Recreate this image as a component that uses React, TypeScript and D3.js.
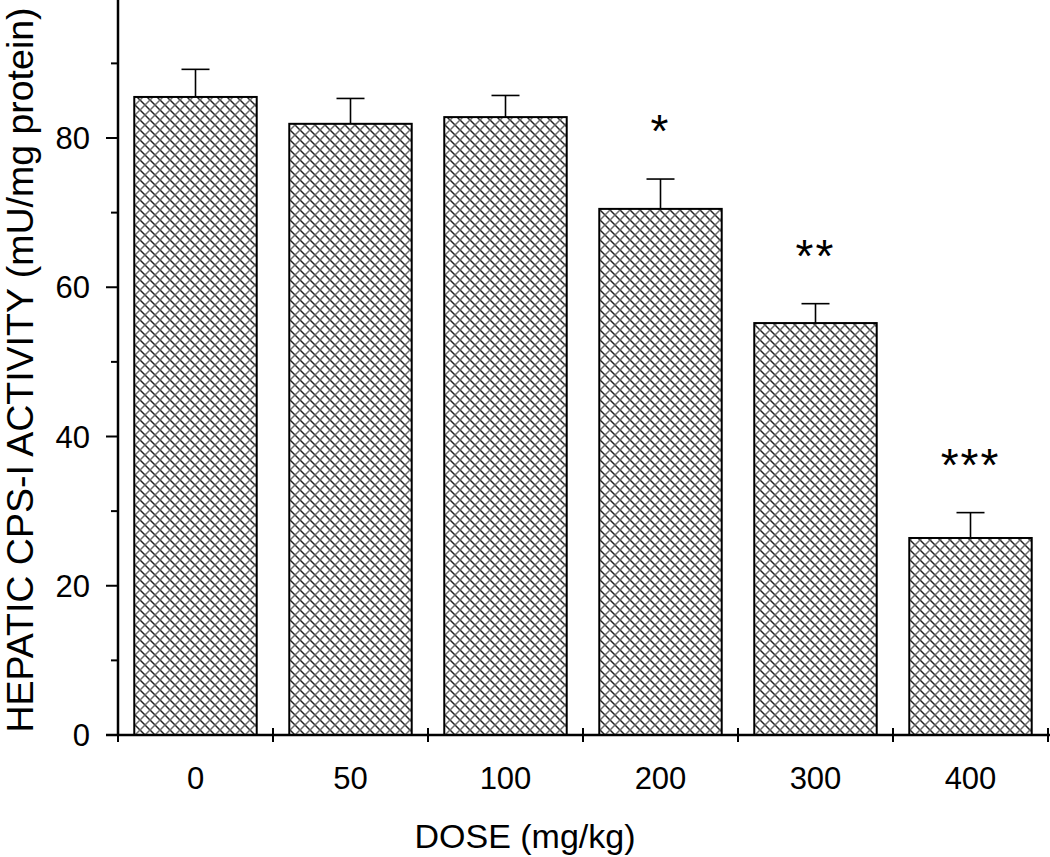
import React from 'react';
import * as d3 from 'd3';

const doses = ['0', '50', '100', '200', '300', '400'];
const activity = [85.5, 81.9, 82.8, 70.5, 55.2, 26.4];
const errorTop = [89.2, 85.3, 85.7, 74.5, 57.8, 29.8];
const stars = ['', '', '', '*', '**', '***'];
const majorTicks = [0, 20, 40, 60, 80];
const minorTicks = [10, 30, 50, 70, 90];

const W = 1050;
const H = 857;
const axisX = 118;
const axisY = 735;
const font = 'Arial, "Liberation Sans", Helvetica, sans-serif';

const App = () => {
  // x bands between the tick marks on the dose axis
  const x = d3.scaleBand<string>()
    .domain(doses)
    .range([axisX, axisX + 155 * doses.length])
    .paddingInner(0.21)
    .paddingOuter(0.105);
  const step = x.step();

  const y = d3.scaleLinear().domain([0, 80]).range([axisY, 138]);

  const bandEdges = d3.range(doses.length + 1).map(i => axisX + i * step);

  return (
    <svg width={W} height={H} style={{ position: 'absolute', left: 0, top: 0, background: '#fff' }}>
      <defs>
        <pattern id="hatch" patternUnits="userSpaceOnUse" width={10} height={10}>
          <rect width={10} height={10} fill="#fff" />
          <path d="M0,0 L10,10 M-5,5 L5,15 M5,-5 L15,5" stroke="#222" strokeWidth={1.5} />
          <path d="M10,0 L0,10 M5,-5 L-5,5 M15,5 L5,15" stroke="#707070" strokeWidth={1.5} />
        </pattern>
      </defs>

      {/* bars */}
      {doses.map((d, i) => (
        <rect
          key={d}
          x={x(d)}
          y={y(activity[i])}
          width={x.bandwidth()}
          height={axisY - y(activity[i])}
          fill="url(#hatch)"
          stroke="#000"
          strokeWidth={2}
        />
      ))}

      {/* upper error bars */}
      {doses.map((d, i) => {
        const cx = (x(d) || 0) + x.bandwidth() / 2;
        return (
          <g key={'e' + d} stroke="#000" strokeWidth={1.6}>
            <line x1={cx} x2={cx} y1={y(activity[i])} y2={y(errorTop[i])} />
            <line x1={cx - 14} x2={cx + 14} y1={y(errorTop[i])} y2={y(errorTop[i])} />
          </g>
        );
      })}

      {/* significance stars */}
      {doses.map((d, i) => stars[i] ? (
        <text
          key={'s' + d}
          x={(x(d) || 0) + x.bandwidth() / 2}
          y={y(errorTop[i]) - 32}
          textAnchor="middle"
          fontFamily={font}
          fontSize={46}
          letterSpacing={2}
        >
          {stars[i]}
        </text>
      ) : null)}

      {/* y axis */}
      <line x1={axisX} x2={axisX} y1={0} y2={axisY} stroke="#000" strokeWidth={2.5} />
      {majorTicks.map(t => (
        <g key={'m' + t}>
          <line x1={axisX - 12} x2={axisX} y1={y(t)} y2={y(t)} stroke="#000" strokeWidth={2} />
          <text x={90} y={y(t) + 11} textAnchor="end" fontFamily={font} fontSize={31}>{t}</text>
        </g>
      ))}
      {minorTicks.map(t => (
        <line key={'n' + t} x1={axisX - 7} x2={axisX} y1={y(t)} y2={y(t)} stroke="#000" strokeWidth={2} />
      ))}

      {/* x axis */}
      <line x1={axisX - 12} x2={W} y1={axisY} y2={axisY} stroke="#000" strokeWidth={2.5} />
      {bandEdges.map((bx, i) => (
        <line key={'t' + i} x1={bx} x2={bx} y1={axisY - 7} y2={axisY + 7} stroke="#000" strokeWidth={2} />
      ))}
      {doses.map(d => (
        <text
          key={'l' + d}
          x={(x(d) || 0) + x.bandwidth() / 2}
          y={789}
          textAnchor="middle"
          fontFamily={font}
          fontSize={31}
        >
          {d}
        </text>
      ))}

      {/* axis titles */}
      <text x={525} y={848} textAnchor="middle" fontFamily={font} fontSize={34}>DOSE (mg/kg)</text>
      <text
        transform={`translate(33, 370) rotate(-90)`}
        textAnchor="middle"
        fontFamily={font}
        fontSize={37.5}
      >
        HEPATIC CPS-I ACTIVITY (mU/mg protein)
      </text>
    </svg>
  );
};

export default App;
